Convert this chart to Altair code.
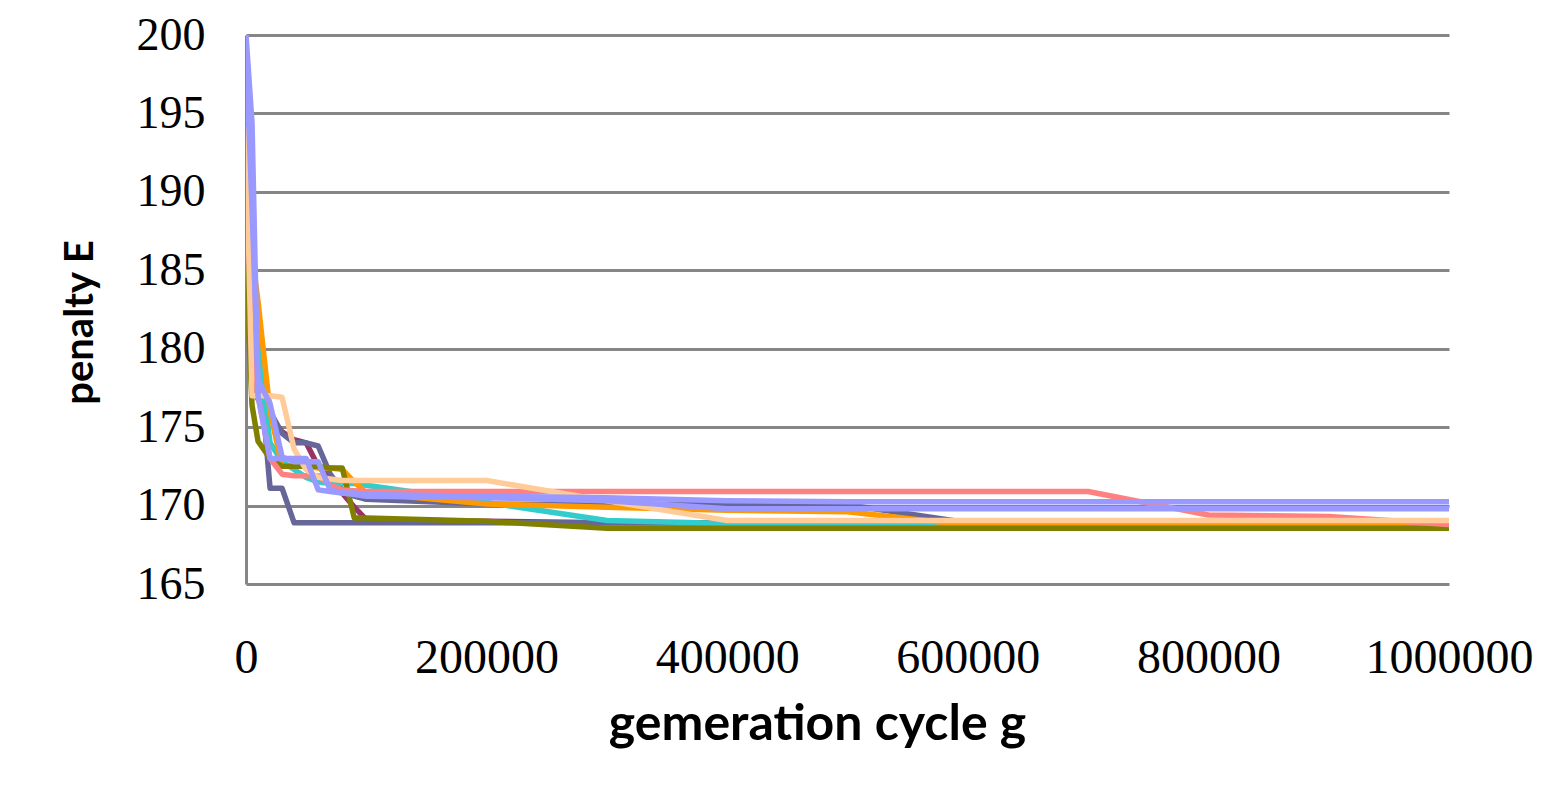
import altair as alt
import pandas as pd

# generation cycle sample points
gens = [0, 5000, 10000, 20000, 30000, 40000, 50000, 60000, 70000, 80000, 90000,
        100000, 200000, 300000, 400000, 500000, 600000, 700000, 800000, 900000, 1000000]

run_maroon = [186, 178, 176.8, 175.6, 174.7, 174.2, 174.0, 172.5, 171.8, 170.8, 169.9,
              169.1, 169.0, 168.9, 168.9, 168.9, 168.9, 168.9, 168.9, 168.9, 168.9]
run_slate1 = [192, 188, 180, 171.1, 171.1, 168.9, 168.9, 168.9, 168.9, 168.9, 168.9,
              168.9, 168.9, 168.9, 168.9, 168.9, 168.9, 168.9, 168.9, 168.9, 168.9]
run_slate2 = [191, 186, 180, 176, 174.6, 174.0, 174.0, 173.8, 172.0, 171.0, 170.6,
              170.4, 170.1, 170.05, 170.05, 170.05, 168.9, 168.9, 168.9, 168.9, 168.9]
run_teal = [192, 188, 180, 174, 172.8, 172.3, 171.8, 171.5, 171.4, 171.4, 171.4,
            171.3, 170.2, 169.05, 168.85, 168.85, 168.85, 168.85, 168.85, 168.85, 168.85]
run_orange = [190, 186, 183, 176, 172.5, 172.5, 172.5, 172.4, 172.4, 172.3, 171.5,
              170.8, 170.1, 169.9, 169.7, 169.6, 168.75, 168.75, 168.75, 168.75, 168.75]
run_olive = [185, 176.4, 174.1, 173.0, 172.5, 172.5, 172.5, 172.5, 172.4, 172.4, 169.2,
             169.2, 169.0, 168.55, 168.55, 168.55, 168.55, 168.55, 168.55, 168.55, 168.55]
run_salmon = [190, 182, 177, 173, 172, 171.9, 171.9, 171.9, 171.3, 171.0, 170.95,
              170.9, 170.9, 170.9, 170.9, 170.9, 170.9, 170.9, 169.4, 169.3, 168.8]
run_peach = [194, 177, 177, 177, 176.9, 173.6, 172.3, 171.8, 171.7, 171.6, 171.6,
             171.6, 171.6, 170.3, 169.05, 169.05, 169.05, 169.05, 169.05, 169.05, 169.05]
run_lav_b = [199, 189, 178, 176.5, 173.1, 172.8, 172.8, 172.8, 171.0, 170.8, 170.7,
             170.6, 170.5, 170.3, 169.8, 169.8, 169.8, 169.8, 169.8, 169.8, 169.8]
run_lav_a = [200, 194.4, 177, 173, 173, 173, 173, 171, 170.9, 170.8, 170.8,
             170.7, 170.6, 170.5, 170.3, 170.25, 170.25, 170.25, 170.25, 170.25, 170.25]

series_names = ["maroon", "slate1", "slate2", "teal", "orange", "olive",
                "salmon", "peach", "lav_b", "lav_a"]
series_values = [run_maroon, run_slate1, run_slate2, run_teal, run_orange, run_olive,
                 run_salmon, run_peach, run_lav_b, run_lav_a]
series_colors = ["#993366", "#666699", "#666699", "#33CCCC", "#FF9900", "#808000",
                 "#FF8080", "#FFCC99", "#9999FF", "#9999FF"]

x_ticks = [0, 200000, 400000, 600000, 800000, 1000000]
y_ticks = [165, 170, 175, 180, 185, 190, 195, 200]

rows = []
for name, vals in zip(series_names, series_values):
    for g, v in zip(gens, vals):
        rows.append({"series": name, "g": g, "E": v})
df = pd.DataFrame(rows)

x_enc = alt.X("g:Q",
              scale=alt.Scale(domain=[0, 1000000], nice=False, zero=False),
              axis=alt.Axis(values=x_ticks, format="d", grid=False, domain=False,
                            ticks=False, tickSize=0, labelPadding=50,
                            labelFont="Liberation Serif", labelFontSize=48,
                            labelColor="black", labelFlush=False, labelOverlap=False,
                            title="gemeration cycle g", titleFont="Lato",
                            titleFontSize=50, titleFontWeight="bold", titleColor="black",
                            titleX=571, titleY=155, titleBaseline="alphabetic",
                            titleAlign="center"))
y_enc = alt.Y("E:Q",
              scale=alt.Scale(domain=[165, 200], nice=False, zero=False),
              axis=alt.Axis(values=y_ticks, grid=True, gridColor="#868686", gridWidth=3,
                            domain=True, domainColor="#868686", domainWidth=3,
                            ticks=False, tickSize=0, labelPadding=41,
                            labelFont="Liberation Serif", labelFontSize=46,
                            labelColor="black", labelFlush=False, labelOverlap=False,
                            title="penalty E", titleFont="Lato", titleFontSize=40,
                            titleFontWeight="bold", titleColor="black",
                            titleAngle=270, titleX=-166, titleY=287,
                            titleAlign="center", titleBaseline="middle"))

layers = []
for i, (name, color) in enumerate(zip(series_names, series_colors)):
    layer = alt.Chart(df).transform_filter(
        alt.datum.series == name
    ).mark_line(color=color, strokeWidth=5.5, strokeJoin="round", strokeCap="round",
                clip=True).encode(
        x=x_enc if i == 0 else alt.X("g:Q"),
        y=y_enc if i == 0 else alt.Y("E:Q"),
        order="g:Q",
    )
    layers.append(layer)

chart = alt.layer(*layers).properties(
    width=1203,
    height=549,
    autosize=alt.AutoSizeParams(type="none"),
    padding={"left": 238, "top": 27, "right": 92, "bottom": 190},
    background="white",
).configure_view(stroke=None)

chart.save("out.html", embed_options={"renderer": "svg", "actions": False})
